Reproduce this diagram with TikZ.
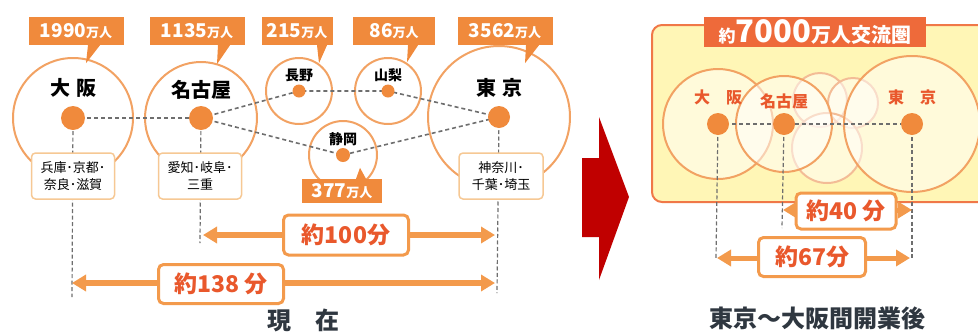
\documentclass[tikz,border=0pt]{standalone}
\usepackage{fontspec}
\setmainfont{Noto Sans CJK JP}
\usetikzlibrary{calc,arrows.meta,positioning}
\definecolor{callorange}{HTML}{F08A3C}
\definecolor{ringorange}{HTML}{F2A263}
\definecolor{boxedge}{HTML}{F6C894}
\definecolor{timeorange}{HTML}{F39A4C}
\definecolor{timetext}{HTML}{E9582C}
\definecolor{dashgray}{HTML}{6E6E6E}
\definecolor{zonefill}{HTML}{FFF6B6}
\definecolor{zoneedge}{HTML}{F07848}
\definecolor{titlefill}{HTML}{EE6A3A}
\definecolor{faintring}{HTML}{F3BC96}
\definecolor{bigred}{HTML}{C00000}
\definecolor{captext}{HTML}{2F3740}
\newcommand{\mannin}{{\fontsize{13}{13}\selectfont 万人}}

\begin{document}
\begin{tikzpicture}[>=Latex, x=1pt, y=-1pt, link/.style={draw=dashgray, line width=1.6pt, dash pattern=on 4pt off 3pt}, drop/.style={draw=dashgray, line width=1.2pt, dash pattern=on 4pt off 2.5pt}, timearrow/.style={draw=timeorange, line width=5.5pt, {Triangle[length=14pt,width=16pt]}-{Triangle[length=14pt,width=16pt]}}]
\useasboundingbox (0,0) rectangle (978,333);
% Define styles for circles, dots, callouts and boxes
\tikzstyle{ring} = [draw=ringorange, fill=white, circle, line width=2pt, inner sep=0pt]
\tikzstyle{citydot} = [fill=callorange, circle, inner sep=0pt, minimum size=24pt]
\tikzstyle{smalldot} = [fill=callorange, circle, inner sep=0pt, minimum size=13pt]
\tikzstyle{popbox} = [fill=callorange, rectangle, inner sep=0pt, minimum height=28pt, text=white, font=\fontsize{19}{20}\selectfont\bfseries]
\tikzstyle{areabox} = [draw=boxedge, fill=white, rectangle, rounded corners=4pt, line width=1.5pt, minimum width=83pt, minimum height=46pt, align=center, font=\fontsize{13}{17}\selectfont]
\tikzstyle{timebox} = [draw=timeorange, fill=white, rectangle, rounded corners=5pt, line width=3pt, text=timetext, font=\fontsize{23}{24}\selectfont\bfseries]
\tikzstyle{bigname} = [font=\fontsize{20}{20}\selectfont\bfseries]
\tikzstyle{smallname} = [font=\fontsize{14}{14}\selectfont\bfseries]
\tikzstyle{zonering} = [draw=ringorange, fill=white, fill opacity=0.5, draw opacity=1, circle, line width=2pt, inner sep=0pt]
\tikzstyle{zonename} = [text=timetext, font=\fontsize{16}{16}\selectfont\bfseries]

% Present: circles
\node [ring, minimum size=120pt] (osakaR) at (73,118) {};
\node [ring, minimum size=112pt] (nagoyaR) at (201,118) {};
\node [ring, minimum size=66pt] (naganoR) at (299,91) {};
\node [ring, minimum size=66pt] (yamanashiR) at (388,91) {};
\node [ring, minimum size=68pt] (shizuokaR) at (343,155) {};
\node [ring, minimum size=142pt] (tokyoR) at (499,117) {};

% Vertical drops and links
\coordinate (osakaEnd) at (72,297);
\coordinate (nagoyaEnd) at (200,243);
\coordinate (tokyoEnd) at (497,293);
\draw[drop] (osakaR.center) -- (osakaEnd);
\draw[drop] (nagoyaR.center) -- (nagoyaEnd);
\draw[drop] (tokyoR.center) -- (tokyoEnd);
\draw[link] (osakaR.center) -- (nagoyaR.center);
\draw[link] (nagoyaR.center) -- (naganoR.center) -- (yamanashiR.center) -- (tokyoR.center);
\draw[link] (nagoyaR.center) -- (shizuokaR.center) -- (tokyoR.center);

% Dots and names
\node [citydot] (osaka) at (osakaR.center) {};
\node [citydot] (nagoya) at (nagoyaR.center) {};
\node [citydot, minimum size=22pt] (tokyo) at (tokyoR.center) {};
\node [smalldot] (nagano) at (naganoR.center) {};
\node [smalldot] (yamanashi) at (yamanashiR.center) {};
\node [smalldot, minimum size=14pt] (shizuoka) at (shizuokaR.center) {};
\node [bigname, above of=osaka, node distance=30pt] {大\hspace{6pt}阪};
\node [bigname, above of=nagoya, node distance=28pt] {名古屋};
\node [bigname, above of=tokyo, node distance=29pt] {東\hspace{6pt}京};
\node [smallname, above of=nagano, node distance=16pt] {長野};
\node [smallname, above of=yamanashi, node distance=16pt] {山梨};
\node [smallname, above of=shizuoka, node distance=16pt] {静岡};

% Area boxes
\node [areabox] (osakaArea) at (73,176) {兵庫･京都･\\奈良･滋賀};
\node [areabox] (nagoyaArea) at (200,176) {愛知･岐阜･\\三重};
\node [areabox, minimum width=84pt] (tokyoArea) at (501,176) {神奈川･\\千葉･埼玉};

% Population callouts
\node [popbox, minimum width=95pt] (osakaPop) at (76,31) {1990\mannin};
\node [popbox, minimum width=95pt] (nagoyaPop) at (197,31) {1135\mannin};
\node [popbox, minimum width=71pt] (naganoPop) at (297,31) {215\mannin};
\node [popbox, minimum width=82pt] (yamanashiPop) at (394,31) {86\mannin};
\node [popbox, minimum width=95pt] (tokyoPop) at (505,31) {3562\mannin};
\node [popbox, minimum width=80pt, minimum height=24pt] (shizuokaPop) at (342,191) {377\mannin};
\fill[callorange] ($(osakaPop.south)+(12,0)$) -- ($(osakaPop.south)+(24,0)$) -- ($(osakaPop.south)+(10,18)$) -- cycle;
\fill[callorange] ($(nagoyaPop.south)+(21,0)$) -- ($(nagoyaPop.south)+(33,0)$) -- ($(nagoyaPop.south)+(20,19)$) -- cycle;
\fill[callorange] ($(naganoPop.south)+(20,0)$) -- ($(naganoPop.south)+(30,0)$) -- ($(naganoPop.south)+(22,18)$) -- cycle;
\fill[callorange] ($(yamanashiPop.south)+(14,0)$) -- ($(yamanashiPop.south)+(24,0)$) -- ($(yamanashiPop.south)+(13,17)$) -- cycle;
\fill[callorange] ($(tokyoPop.south)+(21,0)$) -- ($(tokyoPop.south)+(34,0)$) -- ($(tokyoPop.south)+(20,18)$) -- cycle;
\fill[callorange] ($(shizuokaPop.north)+(14,0)$) -- ($(shizuokaPop.north)+(24,0)$) -- ($(shizuokaPop.north)+(18,-11)$) -- cycle;

% Travel times now
\coordinate (nowL1) at (203,235);
\coordinate (nowR1) at (495,235);
\coordinate (nowL2) at (72,283);
\coordinate (nowR2) at (495,283);
\draw[timearrow] (nowL1) -- (nowR1);
\draw[timearrow] (nowL2) -- (nowR2);
\node [timebox, minimum width=125pt, minimum height=40pt] (now100) at (346,235) {約100分};
\node [timebox, minimum width=125pt, minimum height=39pt] (now138) at (221,284) {約138 分};
\node [font=\fontsize{24}{24}\selectfont\bfseries, text=captext] (nowCap) at (303,320) {現\quad 在};

% Big arrow
\fill[bigred] (582,158) -- (599,158) -- (599,117) -- (629,197) -- (599,280) -- (599,237) -- (582,237) -- cycle;

% After opening: zone
\draw[draw=zoneedge, fill=zonefill, line width=2pt, rounded corners=10pt] (652,25) rectangle (995,202);
\node [zonering, draw=faintring, minimum size=54pt] (naganoZ) at (820,100) {};
\node [zonering, draw=faintring, minimum size=50pt] (yamanashiZ) at (853,103) {};
\node [zonering, draw=faintring, minimum size=70pt] (shizuokaZ) at (827,148) {};
\node [zonering, minimum size=110pt] (osakaZ) at (718,124) {};
\node [zonering, minimum size=96pt] (nagoyaZ) at (784,124) {};
\node [zonering, minimum size=136pt] (tokyoZ) at (912,124) {};
\node [fill=titlefill, text=white, font=\bfseries, minimum width=222pt, minimum height=30pt, inner sep=0pt] (zoneTitle) at (815,32) {{\fontsize{17}{17}\selectfont 約}{\fontsize{31}{31}\selectfont 7000}{\fontsize{20}{20}\selectfont 万人交流圏}};

\coordinate (osakaZEnd) at (716,258);
\coordinate (nagoyaZEnd) at (782,228);
\coordinate (tokyoZEnd) at (912,258);
\draw[drop] (osakaZ.center) -- (osakaZEnd);
\draw[drop] (nagoyaZ.center) -- (nagoyaZEnd);
\draw[drop] (tokyoZ.center) -- (tokyoZEnd);
\draw[link] (osakaZ.center) -- (tokyoZ.center);
\node [citydot, minimum size=22pt] (osaka2) at (osakaZ.center) {};
\node [citydot, minimum size=22pt] (nagoya2) at (nagoyaZ.center) {};
\node [citydot, minimum size=22pt] (tokyo2) at (tokyoZ.center) {};
\node [zonename, above of=osaka2, node distance=27pt] {大\quad 阪};
\node [zonename, above of=nagoya2, node distance=23pt] {名古屋};
\node [zonename, above of=tokyo2, node distance=27pt] {東\quad 京};

% Travel times after
\coordinate (afterL1) at (783,210);
\coordinate (afterR1) at (912,210);
\coordinate (afterL2) at (717,258);
\coordinate (afterR2) at (910,258);
\draw[timearrow, line width=5pt] (afterL1) -- (afterR1);
\draw[timearrow, line width=5pt] (afterL2) -- (afterR2);
\node [timebox, minimum width=100pt, minimum height=36pt] (after40) at (846,211) {約40 分};
\node [timebox, minimum width=107pt, minimum height=39pt] (after67) at (812,257) {約67分};
\node [font=\fontsize{24}{24}\selectfont\bfseries, text=captext] (afterCap) at (817,318) {東京〜大阪間開業後};
\end{tikzpicture}
\end{document}
